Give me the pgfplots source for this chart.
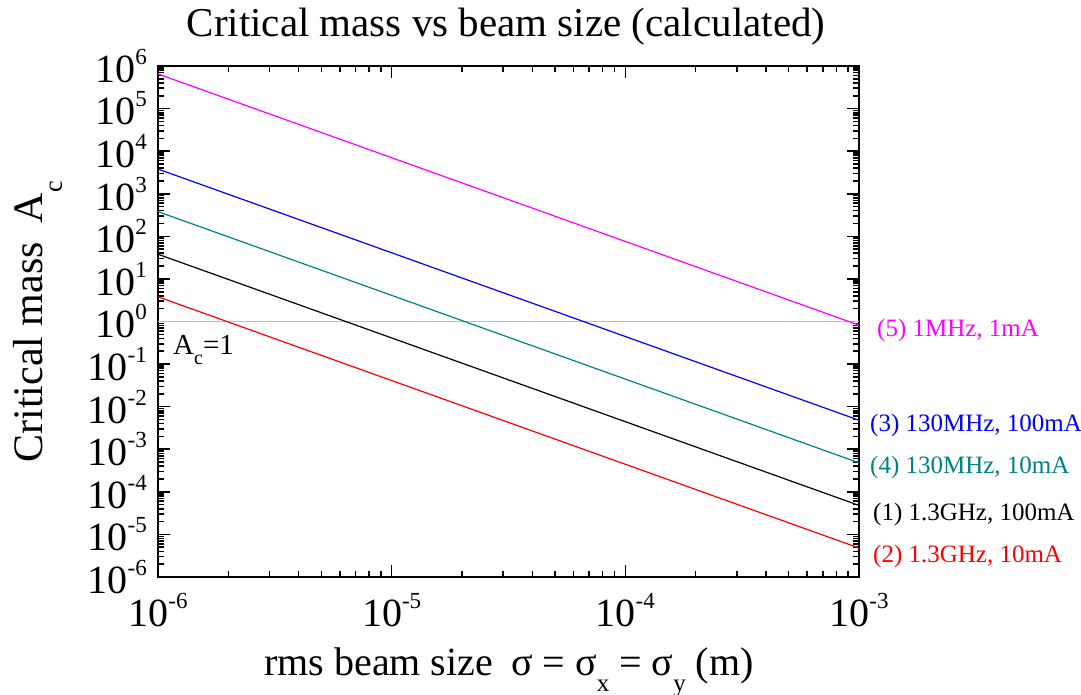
\documentclass[border=0pt]{standalone}
\usepackage{pgfplots}
\pgfplotsset{compat=1.18}
\usepackage{fontspec}
\setmainfont{Liberation Serif}
\definecolor{cmag}{RGB}{255,0,255}
\definecolor{cblue}{RGB}{0,0,255}
\definecolor{cteal}{RGB}{0,130,130}
\definecolor{cred}{RGB}{255,0,0}
\definecolor{cgray}{RGB}{190,190,190}
\newcommand\tl[1]{10\raisebox{0.45em}{\fontsize{23}{23}\selectfont #1}}
\begin{document}
\begin{tikzpicture}[x=1pt,y=1pt]
\useasboundingbox (-158,-118) rectangle (923,577);
\begin{axis}[
  at={(0,0)}, anchor=south west,
  scale only axis, width=701pt, height=511pt,
  xmode=log, ymode=log,
  xmin=1e-6, xmax=1e-3, ymin=1e-6, ymax=1e6,
  xtickten={-6,-5,-4,-3},
  ytickten={-6,-5,-4,-3,-2,-1,0,1,2,3,4,5,6},
  minor xtick={2e-6,3e-6,4e-6,5e-6,6e-6,7e-6,8e-6,9e-6,
    2e-5,3e-5,4e-5,5e-5,6e-5,7e-5,8e-5,9e-5,
    2e-4,3e-4,4e-4,5e-4,6e-4,7e-4,8e-4,9e-4},
  minor ytick={2e-6,3e-6,4e-6,5e-6,6e-6,7e-6,8e-6,9e-6,
    2e-5,3e-5,4e-5,5e-5,6e-5,7e-5,8e-5,9e-5,
    2e-4,3e-4,4e-4,5e-4,6e-4,7e-4,8e-4,9e-4,
    2e-3,3e-3,4e-3,5e-3,6e-3,7e-3,8e-3,9e-3,
    2e-2,3e-2,4e-2,5e-2,6e-2,7e-2,8e-2,9e-2,
    2e-1,3e-1,4e-1,5e-1,6e-1,7e-1,8e-1,9e-1,
    2,3,4,5,6,7,8,9,
    20,30,40,50,60,70,80,90,
    200,300,400,500,600,700,800,900,
    2e3,3e3,4e3,5e3,6e3,7e3,8e3,9e3,
    2e4,3e4,4e4,5e4,6e4,7e4,8e4,9e4,
    2e5,3e5,4e5,5e5,6e5,7e5,8e5,9e5},
  xticklabels={\tl{-6},\tl{-5},\tl{-4},\tl{-3}},
  yticklabels={\tl{-6},\tl{-5},\tl{-4},\tl{-3},\tl{-2},\tl{-1},\tl{0},\tl{1},\tl{2},\tl{3},\tl{4},\tl{5},\tl{6}},
  tick align=inside,
  major tick length=12pt, minor tick length=6pt,
  every tick/.style={black, line width=1.6pt},
  axis line style={line width=2.6pt},
  ticklabel style={font=\fontsize{40}{40}\selectfont, inner sep=0pt},
  xticklabel style={yshift=-16pt},
  yticklabel style={xshift=-11pt},
]
\addplot[cgray, line width=1.6pt] coordinates {(1e-6,1) (1e-3,1)};
\addplot[cmag, line width=1.2pt] coordinates {(1e-6,6.5e5) (1e-3,0.82)};
\addplot[cblue, line width=1.2pt] coordinates {(1e-6,3.8e3) (1e-3,4.8e-3)};
\addplot[cteal, line width=1.2pt] coordinates {(1e-6,3.8e2) (1e-3,4.8e-4)};
\addplot[black, line width=1.2pt] coordinates {(1e-6,38) (1e-3,4.8e-5)};
\addplot[cred, line width=1.2pt] coordinates {(1e-6,3.8) (1e-3,4.8e-6)};
\end{axis}
\node[anchor=base, inner sep=0pt, font=\fontsize{41}{41}\selectfont] at (348,540) {Critical mass vs beam size (calculated)};
\node[anchor=base, inner sep=0pt, font=\fontsize{40}{40}\selectfont] at (351,-99) {rms beam size\hspace{0.45em}σ = σ\raisebox{-0.38em}{\fontsize{25}{25}\selectfont x} = σ\raisebox{-0.38em}{\fontsize{25}{25}\selectfont y} (m)};
\node[rotate=90, anchor=base, inner sep=0pt, font=\fontsize{42}{42}\selectfont] at (-115,255) {Critical mass\hspace{0.45em}A\raisebox{-0.45em}{\fontsize{26}{26}\selectfont c}};
\node[anchor=base west, inner sep=0pt, font=\fontsize{29}{29}\selectfont] at (15,222) {A\raisebox{-0.32em}{\fontsize{20}{20}\selectfont c}=1};
\begin{scope}[every node/.style={anchor=base west, inner sep=0pt, font=\fontsize{25}{25}\selectfont}]
\node[text=cmag] at (719,240) {(5) 1MHz, 1mA};
\node[text=cblue] at (712,145) {(3) 130MHz, 100mA};
\node[text=cteal] at (712,103) {(4) 130MHz, 10mA};
\node[text=black] at (715,56) {(1) 1.3GHz, 100mA};
\node[text=cred] at (715,14) {(2) 1.3GHz, 10mA};
\end{scope}
\end{tikzpicture}
\end{document}
